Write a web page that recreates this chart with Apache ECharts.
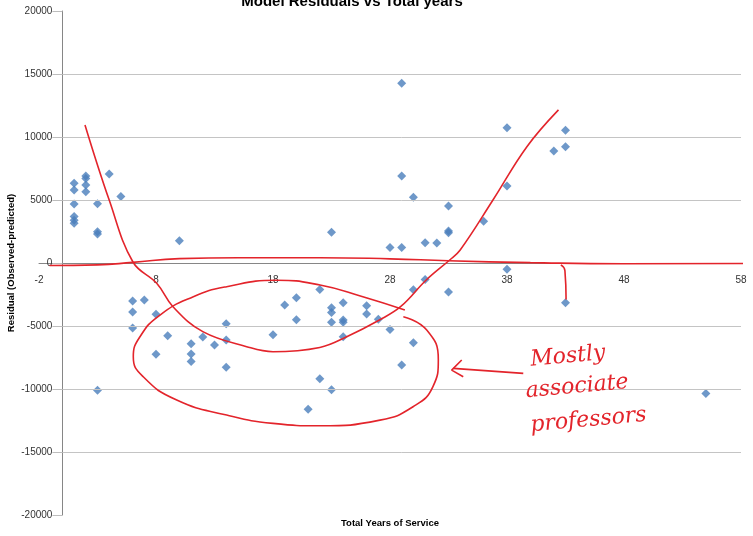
<!DOCTYPE html>
<html>
<head>
<meta charset="utf-8">
<script src="https://cdn.jsdelivr.net/npm/echarts@6/dist/echarts.min.js"></script>
<style>html,body{margin:0;padding:0;background:#fff;}#c{width:753px;height:536px;}</style>
</head>
<body>
<div id="c"></div>
<script>
// ---- data ----
var residualPoints = [
  [1,6330],[1,5800],[1,4690],[1,3700],[1,3400],[1,3150],
  [2,6900],[2,6700],[2,6200],[2,5650],
  [3,4710],[3,2490],[3,2300],[3,-10100],
  [4,7070],[5,5270],
  [6,-3020],[6,-3890],[6,-5160],
  [7,-2940],
  [8,-4070],[8,-7250],
  [9,-5770],
  [10,1770],
  [11,-6400],[11,-7230],[11,-7810],
  [12,-5880],[13,-6510],
  [14,-4820],[14,-6110],[14,-8280],
  [18,-5690],[19,-3330],
  [20,-2750],[20,-4500],
  [21,-11600],
  [22,-2100],[22,-9190],
  [23,2440],[23,-3550],[23,-3920],[23,-4710],[23,-10060],
  [24,-3150],[24,-4520],[24,-4710],[24,-5850],
  [26,-3390],[26,-4050],
  [27,-4470],
  [28,1240],[28,-5270],
  [29,14270],[29,6910],[29,1240],[29,-8100],
  [30,5210],[30,-2120],[30,-6330],
  [31,1610],[31,-1300],
  [32,1590],
  [33,4530],[33,2540],[33,2410],[33,-2300],
  [36,3310],
  [38,10740],[38,6110],[38,-500],
  [42,8890],
  [43,10530],[43,9230],[43,-3150],
  [55,-10350]
];
var xTickMin = -2, xTickMax = 58, xTickStep = 10;
var yTickMin = -20000, yTickMax = 20000, yTickStep = 5000;
var titleText = 'Model Residuals vs Total years';
var xTitle = 'Total Years of Service';
var yTitle = 'Residual (Observed-predicted)';

// hand-drawn annotations (data coordinates)
var uCurve = [[1.93,10960],[4,5000],[6.03,80],[8.06,-1610],[9.45,-3470],[12.0,-5450],[15.75,-6640],[18.0,-7040],[22.0,-6700],[24.3,-5850],[27.1,-4520],[28.9,-3470],[31.1,-1350],[33.1,240],[34,1030],[36.8,5000],[39.7,9230],[42.4,12150]];
var flatLine = [[-1.1,-200],[3,-150],[6,50],[10,350],[15,420],[22,420],[28,330],[33,180],[40,30],[48,-60],[59,-40]];
var ellipse = [[29.27,-3730],[25.68,-2680],[22.02,-1750],[18.3,-1370],[14.04,-1880],[11.19,-2680],[8.34,-4130],[6.63,-5850],[6.06,-7440],[6.91,-9030],[9.77,-10880],[14.04,-12070],[18.0,-12730],[22.02,-12920],[27.14,-12470],[29.97,-11410],[31.67,-9810],[32.13,-7680],[31.14,-5320],[29.14,-4260]];
var arrowShaft = [[39.39,-8760],[33.41,-8360]];
var arrowHead = [[34.13,-7700],[33.27,-8500],[34.26,-9030]];
var tickMark = [[42.6,-150],[42.95,-600],[43.05,-2900]];
var noteLines = ['Mostly','associate','professors'];
var noteAnchors = [[40.0,-7700],[39.6,-10200],[40.0,-12900]];

var gridVals = [];
for (var v = yTickMin; v <= yTickMax; v += yTickStep) { if (v !== 0) gridVals.push(v); }

var RED = '#e3242b';
var FONT = "'Liberation Sans Narrow','Liberation Sans',Arial,sans-serif";

// plot box (pixels)
var G = { left: 39, right: 12, top: 11, bottom: 21 };
var plotW = 753 - G.left - G.right, plotH = 536 - G.top - G.bottom;
// axes cross at value 0 of the other axis
var yAxisOffset = -plotW * (0 - xTickMin) / (xTickMax - xTickMin);
var xAxisOffset = -plotH * (0 - yTickMin) / (yTickMax - yTickMin);

var chart = echarts.init(document.getElementById('c'));

function redLine(data, smooth) {
  return {
    type: 'line', data: data, smooth: smooth, symbol: 'none', clip: false, silent: true, z: 6,
    lineStyle: { color: RED, width: 1.6 }
  };
}
function plain(v) { return String(v); }

var option = {
  animation: false,
  backgroundColor: '#ffffff',
  title: {
    text: titleText, left: 347, top: -11, textAlign: 'center',
    textStyle: { fontFamily: "'Liberation Sans',Arial,sans-serif", fontWeight: 'bold', fontSize: 15, color: '#000' }
  },
  grid: { left: G.left, right: G.right, top: G.top, bottom: G.bottom, containLabel: false, outerBoundsMode: 'none' },
  xAxis: {
    type: 'value', min: xTickMin, max: xTickMax, interval: xTickStep,
    position: 'bottom', offset: xAxisOffset,
    axisLine: { show: true, onZero: false, lineStyle: { color: '#868686', width: 1 } },
    axisTick: { show: false },
    axisLabel: { margin: 12, fontSize: 10, color: '#333', fontFamily: FONT, formatter: plain },
    splitLine: { show: false },
    name: xTitle, nameLocation: 'middle', nameGap: 255, nameMoveOverlap: false,
    nameTextStyle: { fontFamily: FONT, fontWeight: 'bold', fontSize: 9.5, color: '#000' }
  },
  yAxis: {
    type: 'value', min: yTickMin, max: yTickMax, interval: yTickStep,
    position: 'left', offset: yAxisOffset,
    axisLine: { show: true, onZero: false, lineStyle: { color: '#868686', width: 1 } },
    axisTick: { show: true, length: 10, lineStyle: { color: '#bdbdbd' } },
    axisLabel: { margin: 10, fontSize: 10, color: '#333', fontFamily: FONT, formatter: plain },
    splitLine: { show: false },
    name: yTitle, nameLocation: 'middle', nameGap: 46, nameRotate: 90, nameMoveOverlap: false,
    nameTextStyle: { fontFamily: FONT, fontWeight: 'bold', fontSize: 9.5, color: '#000' }
  },
  series: [
    {
      type: 'line', data: [], silent: true, clip: false, z: 1,
      markLine: {
        silent: true, symbol: 'none', animation: false,
        label: { show: false },
        lineStyle: { color: '#c4c4c4', type: 'solid', width: 1 },
        data: gridVals.map(function (g) {
          var endX = (g === yTickMin || g === yTickMax) ? 59.05 : xTickMax;
          return [{ coord: [0, g] }, { coord: [endX, g] }];
        })
      }
    },
    {
      type: 'scatter', data: residualPoints, symbol: 'diamond', symbolSize: 9, z: 4,
      itemStyle: { color: '#4a7ebb' }
    },
    redLine(uCurve, 0.4),
    redLine(flatLine, 0.5),
    redLine(ellipse, 0.5),
    redLine(arrowShaft, false),
    redLine(arrowHead, false),
    redLine(tickMark, 0.5)
  ]
};
chart.setOption(option);

var texts = noteLines.map(function (t, i) {
  var p = chart.convertToPixel({ gridIndex: 0 }, noteAnchors[i]);
  return {
    type: 'text', x: p[0], y: p[1], rotation: 0.09, z: 10,
    style: {
      text: t, fill: RED, font: "italic 22px 'DejaVu Serif', serif",
      textAlign: 'left', textVerticalAlign: 'middle'
    }
  };
});
chart.setOption({ graphic: texts });
</script>
</body>
</html>
